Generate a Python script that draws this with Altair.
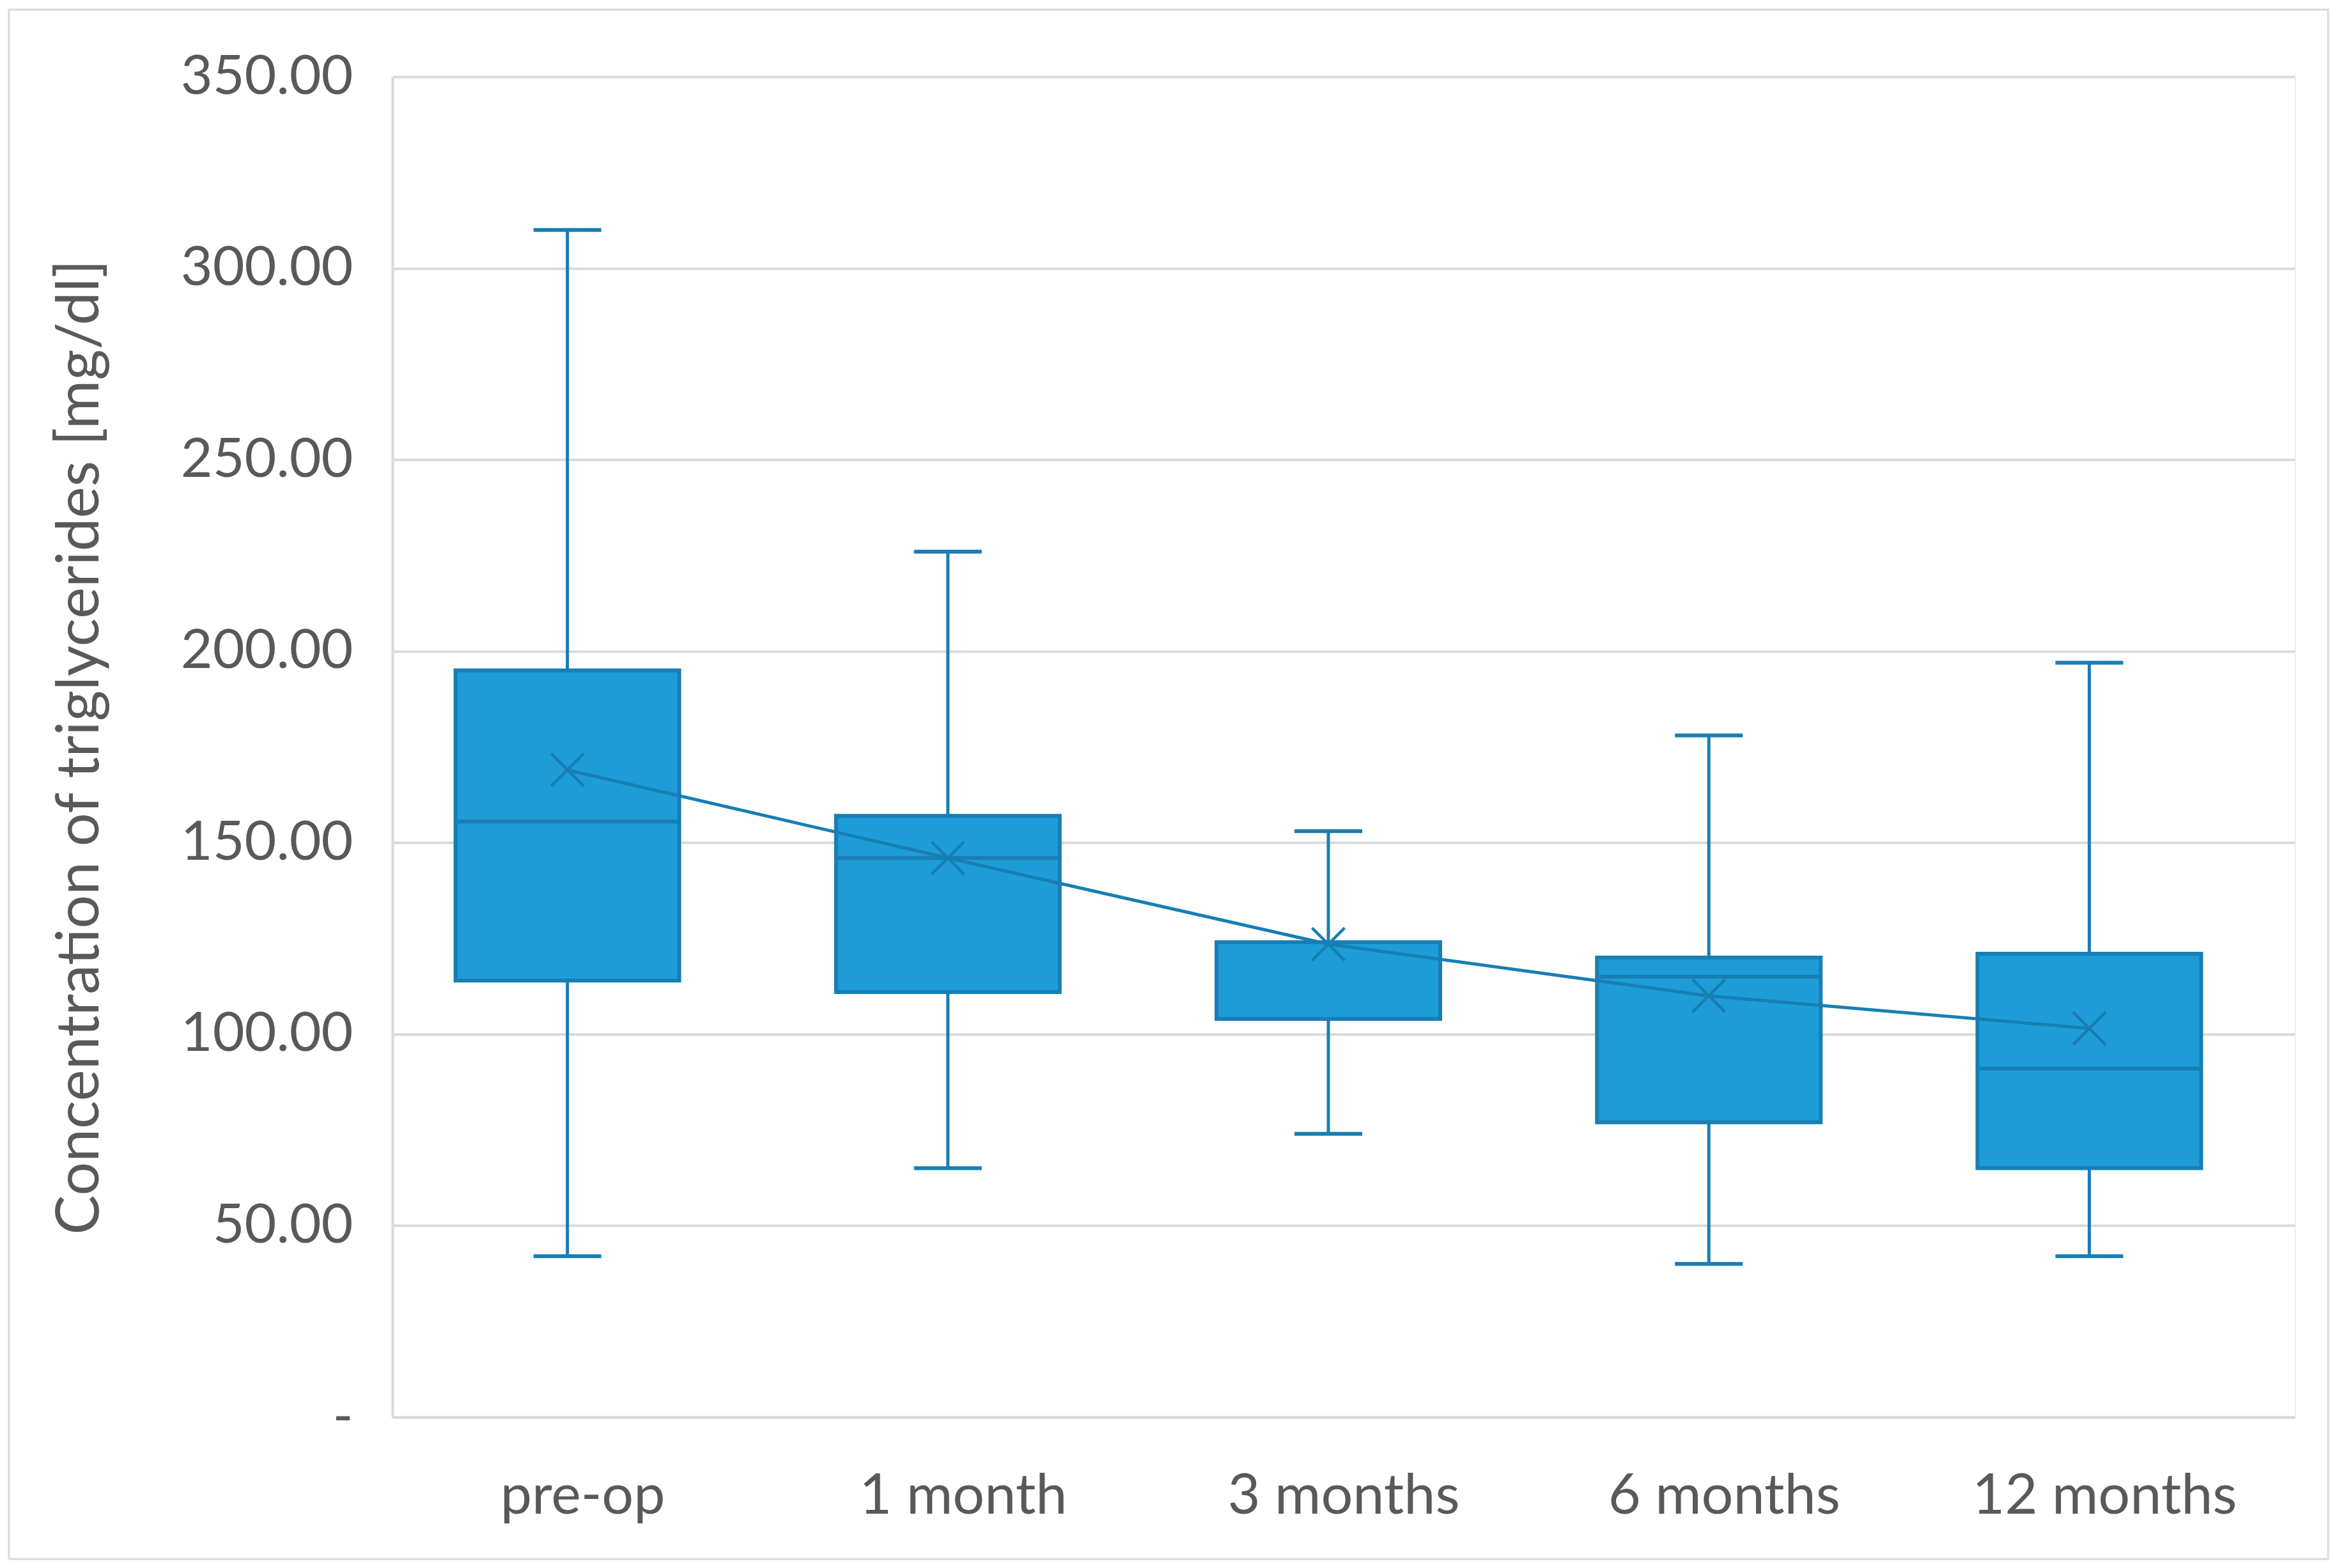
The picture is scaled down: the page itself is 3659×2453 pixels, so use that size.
import altair as alt
import pandas as pd

categories = ["pre-op", "1 month", "3 months", "6 months", "12 months"]
whisker_low = [42, 65, 74, 40, 42]
q1 = [114, 111, 104, 77, 65]
median = [155.5, 146, 124, 115, 91]
q3 = [195, 157, 124, 120, 121]
whisker_high = [310, 226, 153, 178, 197]
mean = [169, 146, 123.5, 110, 101.5]

df = pd.DataFrame({
    "cat": categories,
    "low": whisker_low,
    "q1": q1,
    "median": median,
    "q3": q3,
    "high": whisker_high,
    "mean": mean,
})

FILL = "#1D9CD8"
STROKE = "#187EB3"
GRID = "#D9D9D9"
TEXT = "#595959"
FONT = "Lato"
OFF = -24
W, H = 2976, 2097

x_enc = alt.X(
    "cat:N",
    sort=categories,
    scale=alt.Scale(type="band", paddingInner=0, paddingOuter=0),
    axis=alt.Axis(
        title=None,
        labelAngle=0,
        labelFont=FONT,
        labelFontSize=88,
        labelColor=TEXT,
        labelPadding=150,
        labelBaseline="alphabetic",
        labelLimit=0,
        ticks=False,
        domain=True,
        domainColor=GRID,
        domainWidth=4,
        grid=False,
    ),
)

y_axis = alt.Axis(
    values=list(range(0, 351, 50)),
    labelExpr="datum.value == 0 ? '-' : format(datum.value, '.2f')",
    labelFont=FONT,
    labelFontSize=86,
    labelColor=TEXT,
    labelPadding=62,
    labelLimit=0,
    ticks=False,
    domain=True,
    domainColor=GRID,
    domainWidth=4,
    grid=True,
    gridColor=GRID,
    gridWidth=4,
    title="Concentration of triglycerides [mg/dl]",
    titleFont=FONT,
    titleFontSize=93,
    titleFontWeight="normal",
    titleColor=TEXT,
    titleLimit=0,
    titleAngle=-90,
    titleX=-489,
    titleY=H / 2,
    titleAlign="center",
    titleBaseline="middle",
)

y_scale = alt.Scale(domain=[0, 350], nice=False, zero=True)


def Y(field):
    return alt.Y(f"{field}:Q", scale=y_scale, axis=y_axis)


base = alt.Chart(df)

whisker = base.mark_rule(color=STROKE, strokeWidth=5, xOffset=OFF).encode(
    x=x_enc, y=Y("low"), y2="high:Q"
)
cap_low = base.mark_tick(color=STROKE, size=106, thickness=6, xOffset=OFF, opacity=1).encode(
    x=x_enc, y=Y("low")
)
cap_high = base.mark_tick(color=STROKE, size=106, thickness=6, xOffset=OFF, opacity=1).encode(
    x=x_enc, y=Y("high")
)
box = base.mark_bar(size=350, fill=FILL, stroke=STROKE, strokeWidth=6, xOffset=OFF).encode(
    x=x_enc, y=Y("q1"), y2="q3:Q"
)
med = base.mark_tick(color=STROKE, size=344, thickness=6, xOffset=OFF, opacity=1).encode(
    x=x_enc, y=Y("median")
)
mean_line = base.mark_line(color=STROKE, strokeWidth=5, xOffset=OFF).encode(
    x=x_enc, y=Y("mean")
)
mean_pts = base.mark_point(
    shape="M-1,-1L1,1M1,-1L-1,1",
    size=2600,
    filled=False,
    stroke=STROKE,
    strokeWidth=4.5,
    opacity=1,
    xOffset=OFF,
).encode(x=x_enc, y=Y("mean"))

border = alt.Chart(alt.Data(values=[{"a": 1}])).mark_rect(
    fill="white", fillOpacity=0, stroke=GRID, strokeWidth=3, clip=False
).encode(
    x=alt.value(-600), x2=alt.value(3028), y=alt.value(-105), y2=alt.value(2319)
)

chart = alt.layer(
    border, whisker, cap_low, cap_high, box, med, mean_line, mean_pts
).properties(
    width=W,
    height=H,
    autosize=alt.AutoSizeParams(type="none"),
    padding={"left": 606, "top": 112, "right": 60, "bottom": 230},
    background="white",
).configure_view(strokeWidth=0).configure(font=FONT)

chart.save("out.html", embed_options={"renderer": "svg", "actions": False})
